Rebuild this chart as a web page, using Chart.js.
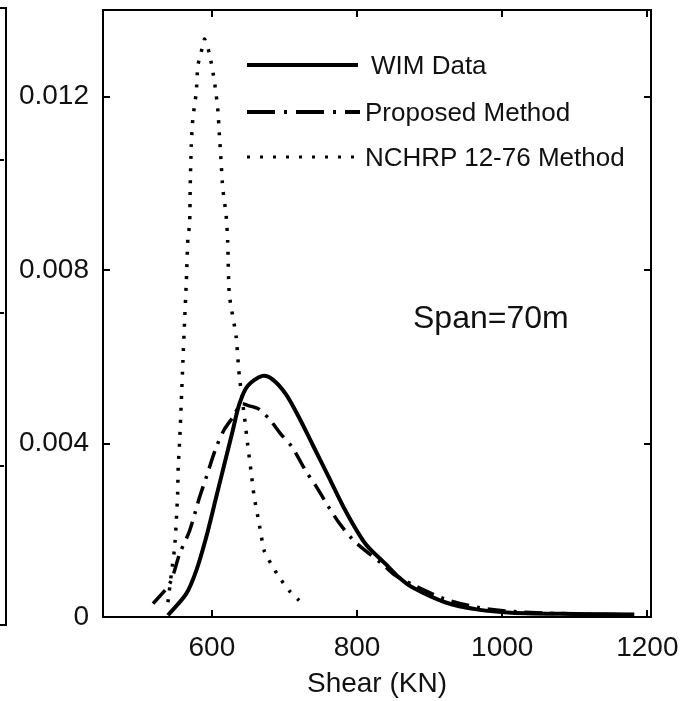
<!DOCTYPE html>
<html>
<head>
<meta charset="utf-8">
<script src="https://cdn.jsdelivr.net/npm/chart.js@4/dist/chart.umd.min.js"></script>
<style>
  html,body{margin:0;padding:0;background:#fff;}
  #wrap{position:relative;width:690px;height:701px;overflow:hidden;font-family:"Liberation Sans",Arial,sans-serif;color:#111;}
  #c{position:absolute;left:0;top:0;}
  .leg{position:absolute;font-size:26px;line-height:26px;white-space:nowrap;}
  .sample{position:absolute;}
  #span{position:absolute;left:413px;top:301px;font-size:32px;line-height:32px;white-space:nowrap;}
  #leftpanel{position:absolute;left:-2px;top:7px;width:7px;height:615px;border:2px solid #000;border-left:none;}
  .lt{position:absolute;left:-2px;width:6px;height:2px;background:#000;}
</style>
</head>
<body>
<div id="wrap">
  <div id="leftpanel"></div>
  <div class="lt" style="top:159px"></div>
  <div class="lt" style="top:312px"></div>
  <div class="lt" style="top:465px"></div>
  <canvas id="c" width="690" height="701"></canvas>
  <svg class="sample" style="left:246px;top:55px" width="114" height="112">
    <line x1="1" y1="10" x2="112" y2="10" stroke="#000" stroke-width="4"/>
    <line x1="1" y1="57" x2="120" y2="57" stroke="#000" stroke-width="4" stroke-dasharray="28,9,3,9"/>
    <line x1="1" y1="102" x2="116" y2="102" stroke="#000" stroke-width="3" stroke-dasharray="3,10"/>
  </svg>
  <div class="leg" style="left:371px;top:52px">WIM Data</div>
  <div class="leg" style="left:365px;top:99px">Proposed Method</div>
  <div class="leg" style="left:365px;top:144px">NCHRP 12-76 Method</div>
  <div id="span">Span=70m</div>
</div>
<script>
// ---- data ----
const seriesNames = ["WIM Data", "Proposed Method", "NCHRP 12-76 Method"];

const wimX = [539.5, 564.8, 578.5, 592.2, 605.9, 617.3, 628.6, 637.8, 649.2, 669.8, 683.5, 701.9, 720.1, 738.3, 761.2, 784.1, 811.5, 838.9, 857.2, 875.4, 921.2, 966.9, 1012, 1100, 1182];
const wimY = [0.00004, 0.00054, 0.00107, 0.00184, 0.00276, 0.00353, 0.00429, 0.00491, 0.00533, 0.00556, 0.00548, 0.00514, 0.00460, 0.00399, 0.00322, 0.00245, 0.00169, 0.00123, 0.00092, 0.00069, 0.00034, 0.00017, 0.00010, 0.00007, 0.00006];

const propX = [519, 541.9, 555.6, 569.3, 583, 592.2, 605.9, 617.3, 628.6, 640.2, 651.5, 665.2, 681.3, 695, 710.9, 729.3, 743, 761.2, 774.9, 793.2, 811.5, 834.3, 852.7, 880, 920, 970, 1020, 1100, 1182];
const propY = [0.00031, 0.00077, 0.00146, 0.00199, 0.00276, 0.00322, 0.00391, 0.00433, 0.00460, 0.00491, 0.00487, 0.00479, 0.00452, 0.00422, 0.00391, 0.00337, 0.00303, 0.00253, 0.00218, 0.00180, 0.00153, 0.00123, 0.00096, 0.00072, 0.00042, 0.00021, 0.00012, 0.00007, 0.00005];

const nchrpX = [539.5, 544.2, 548.7, 551, 552.8, 553.6, 555.6, 557.9, 560.1, 562.4, 564.8, 567, 569.3, 570.2, 571.6, 573.8, 578.5, 580.7, 585.3, 589.8, 596.7, 603.6, 608.1, 610.4, 612.7, 615, 619.6, 621.8, 624.1, 633.3, 637.8, 644.7, 649.2, 653.9, 658.4, 665.2, 672.1, 681.3, 692.7, 706.4, 720.1];
const nchrpY = [0.00034, 0.00100, 0.00161, 0.00222, 0.00284, 0.00345, 0.00406, 0.00498, 0.00590, 0.00682, 0.00774, 0.00874, 0.00905, 0.00996, 0.01088, 0.01150, 0.01211, 0.01272, 0.01303, 0.01333, 0.01299, 0.01234, 0.01172, 0.01111, 0.01050, 0.00989, 0.00927, 0.00866, 0.00743, 0.00648, 0.00556, 0.00464, 0.00399, 0.00337, 0.00276, 0.00215, 0.00153, 0.00123, 0.00092, 0.00061, 0.00038];

const xTickValues = [600, 800, 1000, 1200];
const xTickLabels = ["600", "800", "1000", "1200"];
const yTickValues = [0, 0.004, 0.008, 0.012];
const yTickLabels = ["0", "0.004", "0.008", "0.012"];
const xTitle = "Shear (KN)";

const pts = (xs, ys) => xs.map((v, i) => ({x: v, y: ys[i]}));

const framePlugin = {
  id: 'frame',
  afterDatasetsDraw(chart) {
    const {ctx, chartArea: a, scales: {x, y}} = chart;
    ctx.save();
    ctx.strokeStyle = '#000';
    ctx.lineWidth = 2;
    ctx.strokeRect(a.left, a.top, a.right - a.left, a.bottom - a.top);
    const L = 7;
    ctx.beginPath();
    x.ticks.forEach(t => {
      const p = Math.round(x.getPixelForValue(t.value));
      ctx.moveTo(p, a.bottom); ctx.lineTo(p, a.bottom - L);
      ctx.moveTo(p, a.top); ctx.lineTo(p, a.top + L);
    });
    y.ticks.forEach(t => {
      const p = Math.round(y.getPixelForValue(t.value));
      ctx.moveTo(a.left, p); ctx.lineTo(a.left + L, p);
      ctx.moveTo(a.right, p); ctx.lineTo(a.right - L, p);
    });
    ctx.stroke();
    ctx.restore();
  }
};

const tickFont = {family: '"Liberation Sans", Arial, sans-serif', size: 28};

new Chart(document.getElementById('c'), {
  type: 'scatter',
  data: {
    datasets: [
      {label: seriesNames[0], data: pts(wimX, wimY), showLine: true, borderColor: '#000', borderWidth: 4, pointRadius: 0, tension: 0.3},
      {label: seriesNames[1], data: pts(propX, propY), showLine: true, borderColor: '#000', borderWidth: 3.5, borderDash: [18, 8, 3, 8], pointRadius: 0, tension: 0.3},
      {label: seriesNames[2], data: pts(nchrpX, nchrpY), showLine: true, borderColor: '#000', borderWidth: 3.5, borderDash: [3, 9], pointRadius: 0, tension: 0.2}
    ]
  },
  options: {
    responsive: false,
    animation: false,
    devicePixelRatio: 1,
    layout: {padding: {top: 10, right: 39, left: 0, bottom: 0}},
    plugins: {legend: {display: false}, tooltip: {enabled: false}},
    scales: {
      x: {
        type: 'linear', min: 450, max: 1205,
        afterBuildTicks: s => { s.ticks = xTickValues.map(v => ({value: v})); },
        afterFit: s => { s.height = 84; s.paddingLeft = 0; s.paddingRight = 0; },
        grid: {display: false, drawTicks: false},
        border: {display: false},
        ticks: {color: '#111', font: tickFont, padding: 14, maxRotation: 0,
          callback: (v) => { const i = xTickValues.indexOf(v); return i >= 0 ? xTickLabels[i] : ''; }},
        title: {display: true, text: xTitle, color: '#111', font: tickFont, padding: {top: 0, bottom: 0}}
      },
      y: {
        type: 'linear', min: 0, max: 0.014,
        afterBuildTicks: s => { s.ticks = yTickValues.map(v => ({value: v})); },
        afterFit: s => { s.width = 103; s.paddingTop = 0; s.paddingBottom = 0; },
        grid: {display: false, drawTicks: false},
        border: {display: false},
        ticks: {color: '#111', font: tickFont, padding: 14,
          callback: (v) => { const i = yTickValues.indexOf(v); return i >= 0 ? yTickLabels[i] : ''; }}
      }
    }
  },
  plugins: [framePlugin]
});
</script>
</body>
</html>
